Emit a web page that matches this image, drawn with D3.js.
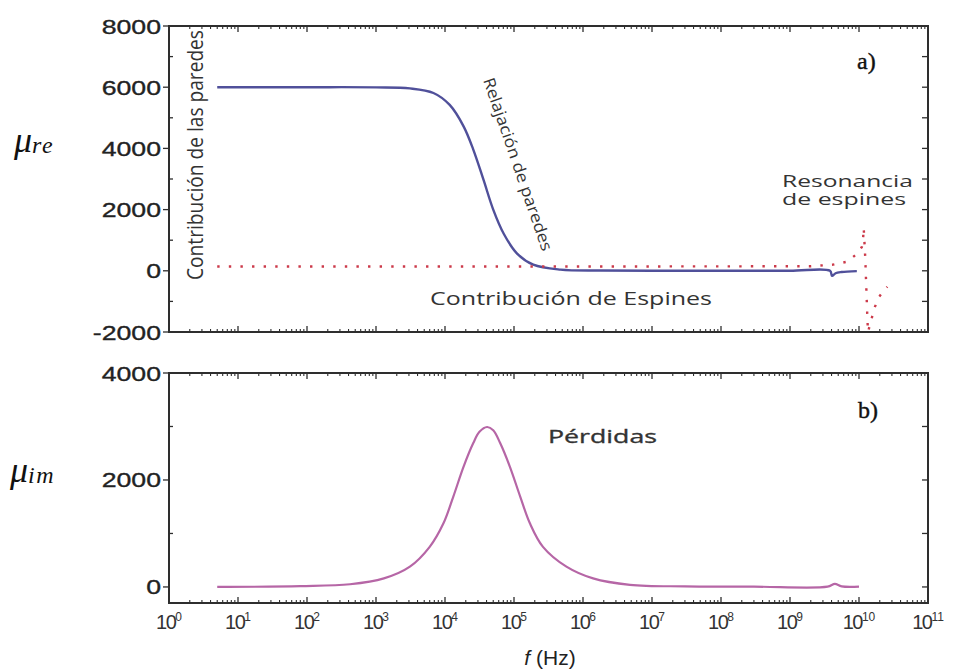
<!DOCTYPE html>
<html>
<head>
<meta charset="utf-8">
<script src="https://cdn.jsdelivr.net/npm/d3@7"></script>
<style>
  body { margin: 0; background: #fff; }
  svg { display: block; }
</style>
</head>
<body>
<div id="chart"></div>
<script>
// datos (frecuencia en Hz)
const freqRe  = [5, 1e2, 1e3, 3.1e3, 6.8e3, 1.17e4, 1.86e4, 2.57e4, 3.63e4, 5.0e4, 7.1e4, 1.1e5, 1.9e5, 4.7e5, 1.8e6, 1e7, 1e8, 1e9, 3.8e9, 4.07e9, 4.57e9, 5.6e9, 9.3e9];
const muRe    = [6000, 6000, 5995, 5960, 5810, 5420, 4720, 3960, 2960, 2000, 1210, 570, 200, 40, 10, 0, 0, 0, 0, -165, -80, -40, -10];

const freqSpin = [5, 1e2, 1e4, 1e6, 1e8, 2e9, 4.2e9, 6.8e9, 9.3e9, 1.1e10, 1.15e10, 1.17e10, 1.23e10, 1.26e10, 1.29e10, 1.32e10, 1.35e10, 1.55e10, 1.7e10, 1.95e10, 2.57e10];
const muSpin   = [140, 140, 140, 140, 145, 150, 200, 300, 550, 780, 1100, 1400, 460, -200, -850, -1500, -2000, -1500, -1180, -850, -520];

const freqIm = [5, 80, 4.2e2, 1.3e3, 3.1e3, 6.0e3, 9.5e3, 1.32e4, 1.86e4, 2.57e4, 3.16e4, 4.07e4, 5.0e4, 6.3e4, 8.7e4, 1.23e5, 1.7e5, 2.63e5, 5.75e5, 1.4e6, 4.8e6, 3e7, 3e8, 3.5e9, 4.47e9, 5.6e9, 1e10];
const muIm   = [0, 15, 50, 160, 380, 750, 1190, 1690, 2250, 2690, 2900, 2990, 2930, 2690, 2250, 1690, 1190, 750, 380, 160, 40, 10, 5, 5, 56, 10, 5];

const yTicksRe = [-2000, 0, 2000, 4000, 6000, 8000];
const yMinorRe = [-1000, 1000, 3000, 5000, 7000];
const yTicksIm = [0, 2000, 4000];
const yMinorIm = [1000, 3000];
const xExps = [0, 1, 2, 3, 4, 5, 6, 7, 8, 9, 10, 11];

const W = 953, H = 669;
const svg = d3.select("#chart").append("svg").attr("width", W).attr("height", H);

const x = d3.scaleLog().domain([1, 1e11]).range([169, 928]);
const yRe = d3.scaleLinear().domain([-2000, 8000]).range([332, 26]);
const yIm = d3.scaleLinear().domain([-300, 4000]).range([603, 373]);

const frameColor = "#2e2e2e";
const labelFont = "'Liberation Sans', Arial, sans-serif";
const noteFont = "'Open Sans', 'DejaVu Sans', sans-serif";

// marcas menores de la escala log
const minorX = [];
xExps.slice(0, -1).forEach(e => { for (let m = 2; m <= 9; m++) minorX.push(m * Math.pow(10, e)); });
const majorX = xExps.map(e => Math.pow(10, e));

function drawPanel(y, major, minor, id) {
  const g = svg.append("g");
  const [y0, y1] = y.range();
  const x0 = x.range()[0], x1 = x.range()[1];

  g.append("clipPath").attr("id", id).append("rect")
    .attr("x", x0).attr("y", y1).attr("width", x1 - x0).attr("height", y0 - y1);

  // ticks en x (abajo y arriba, hacia adentro)
  [[y0, -1], [y1, 1]].forEach(([yy, dir]) => {
    g.selectAll(null).data(majorX).enter().append("line")
      .attr("x1", d => x(d)).attr("x2", d => x(d))
      .attr("y1", yy).attr("y2", yy + dir * 6)
      .attr("stroke", frameColor).attr("stroke-width", 1.3);
    g.selectAll(null).data(minorX).enter().append("line")
      .attr("x1", d => x(d)).attr("x2", d => x(d))
      .attr("y1", yy).attr("y2", yy + dir * 3)
      .attr("stroke", frameColor).attr("stroke-width", 1.1);
  });

  // ticks en y
  g.selectAll(null).data(major).enter().append("line")
    .attr("x1", x0 - 6).attr("x2", x0)
    .attr("y1", d => y(d)).attr("y2", d => y(d))
    .attr("stroke", frameColor).attr("stroke-width", 1.3);
  g.selectAll(null).data(minor).enter().append("line")
    .attr("x1", x0).attr("x2", x0 + 4)
    .attr("y1", d => y(d)).attr("y2", d => y(d))
    .attr("stroke", frameColor).attr("stroke-width", 1.3);
  g.selectAll(null).data(major.concat(minor)).enter().append("line")
    .attr("x1", x1 - 6).attr("x2", x1)
    .attr("y1", d => y(d)).attr("y2", d => y(d))
    .attr("stroke", frameColor).attr("stroke-width", 1.3);

  g.append("rect")
    .attr("x", x0).attr("y", y1).attr("width", x1 - x0).attr("height", y0 - y1)
    .attr("fill", "none").attr("stroke", frameColor).attr("stroke-width", 2);

  // etiquetas del eje y
  g.selectAll(null).data(major).enter().append("text")
    .attr("transform", d => `translate(${x0 - 8},${y(d) + 7.5}) scale(1.27,1)`)
    .attr("text-anchor", "end")
    .attr("font-family", labelFont).attr("font-size", 21)
    .attr("fill", "#222").attr("stroke", "#222").attr("stroke-width", 0.35)
    .text(d => d);
  return g;
}

drawPanel(yRe, yTicksRe, yMinorRe, "clipRe");
drawPanel(yIm, yTicksIm, yMinorIm, "clipIm");

// curvas
const lineRe = d3.line().x((d, i) => x(freqRe[i])).y(d => yRe(d)).curve(d3.curveCatmullRom.alpha(0.5));
svg.append("path").datum(muRe)
  .attr("d", lineRe).attr("fill", "none")
  .attr("stroke", "#50509a").attr("stroke-width", 2.4);

const lineSpin = d3.line().x((d, i) => x(freqSpin[i])).y(d => yRe(d));
svg.append("path").datum(muSpin)
  .attr("clip-path", "url(#clipRe)")
  .attr("d", lineSpin).attr("fill", "none")
  .attr("stroke", "#cc3a4a").attr("stroke-width", 2.4)
  .attr("stroke-dasharray", "2.4,9.2");

const lineIm = d3.line().x((d, i) => x(freqIm[i])).y(d => yIm(d)).curve(d3.curveCatmullRom.alpha(0.5));
svg.append("path").datum(muIm)
  .attr("d", lineIm).attr("fill", "none")
  .attr("stroke", "#b666a6").attr("stroke-width", 2.2);

// etiquetas del eje x
const xl = svg.append("g").selectAll(null).data(xExps).enter().append("text")
  .attr("x", d => x(Math.pow(10, d)))
  .attr("y", 629)
  .attr("text-anchor", "middle")
  .attr("font-family", labelFont).attr("fill", "#333");
xl.append("tspan").attr("font-size", 20).attr("letter-spacing", -1.5).text("10");
xl.append("tspan").attr("font-size", 12).attr("dy", -8).text(d => d);

const xt = svg.append("text").attr("x", 550).attr("y", 665)
  .attr("text-anchor", "middle").attr("font-family", labelFont)
  .attr("font-size", 21).attr("fill", "#222");
xt.append("tspan").attr("font-style", "italic").text("f");
xt.append("tspan").text(" (Hz)");

// simbolos mu
function muLabel(sub, xx, yy) {
  const t = svg.append("text").attr("x", xx).attr("y", yy)
    .attr("font-family", "'Liberation Serif', 'DejaVu Serif', serif")
    .attr("font-style", "italic").attr("fill", "#111");
  t.append("tspan").attr("font-size", 36).text("μ");
  t.append("tspan").attr("font-size", 24).attr("dy", 1).attr("letter-spacing", 1.5).text(sub);
}
muLabel("re", 14, 152);
muLabel("im", 10, 482);

// etiquetas de panel
svg.append("text").attr("x", 857).attr("y", 69)
  .attr("font-family", "'Liberation Serif', serif").attr("font-size", 24)
  .attr("fill", "#111").attr("stroke", "#111").attr("stroke-width", 0.4).text("a)");
svg.append("text").attr("x", 858).attr("y", 418)
  .attr("font-family", "'Liberation Serif', serif").attr("font-size", 24)
  .attr("fill", "#111").attr("stroke", "#111").attr("stroke-width", 0.4).text("b)");

// anotaciones
function note(txt, xx, yy, size, len, opts = {}) {
  const t = svg.append("text")
    .attr("x", 0).attr("y", 0)
    .attr("transform", `translate(${xx},${yy}) rotate(${opts.rot || 0})`)
    .attr("font-family", noteFont).attr("font-size", size)
    .attr("fill", "#333")
    .attr("stroke", "#333").attr("stroke-width", opts.bold || 0)
    .attr("textLength", len).attr("lengthAdjust", "spacingAndGlyphs")
    .text(txt);
  return t;
}
note("Contribución de las paredes", 203, 280, 21, 250, { rot: -90 });
note("Relajación de paredes", 483, 80, 16, 182, { rot: 71 });
note("Contribución de Espines", 430, 305, 19, 282);
note("Resonancia", 782, 187, 17, 131);
note("de espines", 782, 205, 17, 124);
note("Pérdidas", 548, 443, 19, 109, { bold: 0.35 });
</script>
</body>
</html>
